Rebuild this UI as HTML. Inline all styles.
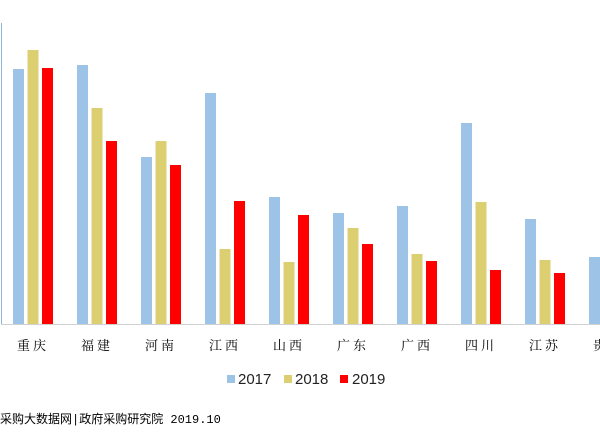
<!DOCTYPE html>
<html><head><meta charset="utf-8">
<style>
body{margin:0;background:#fff;width:600px;height:437px;overflow:hidden;font-family:"Liberation Sans","Noto Sans CJK SC",sans-serif;}
svg{display:block}
</style></head>
<body>
<svg id="chart" width="600" height="437" xmlns="http://www.w3.org/2000/svg">
<line x1="1.5" y1="23" x2="1.5" y2="324" stroke="#8fb3d9" stroke-width="1"/>
<line x1="1" y1="324.5" x2="600" y2="324.5" stroke="#d0d0d0" stroke-width="1"/>
<g id="bars"></g>
<g id="labels"></g>
<g font-size="15" fill="#222">
<rect x="227" y="375" width="8" height="8" fill="#9dc3e6"/>
<text x="238" y="384">2017</text>
<rect x="284" y="375" width="8" height="8" fill="#dccf72"/>
<text x="295" y="384">2018</text>
<rect x="340" y="375" width="8" height="8" fill="#ff0000"/>
<text x="352" y="384">2019</text>
</g>
<text x="0" y="423" font-size="12" fill="#000" font-family="'Liberation Mono','Noto Sans CJK SC',monospace">采购大数据网|政府采购研究院 2019.10</text>
</svg>
<script>
const categories=["重庆","福建","河南","江西","山西","广东","广西","四川","江苏","贵州"];
const s2017=[255,259,167,231,127,111,118,201,105,67];
const s2018=[274,216,183,75,62,96,70,122,64,40];
const s2019=[256,183,159,123,109,80,63,54,51,30];
const seriesNames=["2017","2018","2019"];
const colors=["#9dc3e6","#dccf72","#ff0000"];
const baseY=324, maxV=301, plotTop=23;
function yScale(v){return baseY-(v/maxV)*(baseY-plotTop);}
function groupX(i){return 13+i*64;}
const ns="http://www.w3.org/2000/svg";
const bars=document.getElementById("bars"), labels=document.getElementById("labels");
[s2017,s2018,s2019].forEach((s,k)=>{
  s.forEach((v,i)=>{
    const r=document.createElementNS(ns,"rect");
    
    
    const x=groupX(i)+k*14.5;
    r.setAttribute("x",x);r.setAttribute("width",11);
    r.setAttribute("y",yScale(v));r.setAttribute("height",baseY-yScale(v));
    r.setAttribute("fill",colors[k]);
    bars.appendChild(r);
  });
});
categories.forEach((c,i)=>{
  const t=document.createElementNS(ns,"text");
  
  
  t.setAttribute("x",groupX(i)+20);t.setAttribute("y",350);
  t.setAttribute("text-anchor","middle");t.setAttribute("font-size","13");
  t.setAttribute("font-family","'Noto Serif CJK SC',serif");
  t.setAttribute("letter-spacing","3");
  t.textContent=c;labels.appendChild(t);
});
</script>
</body></html>
